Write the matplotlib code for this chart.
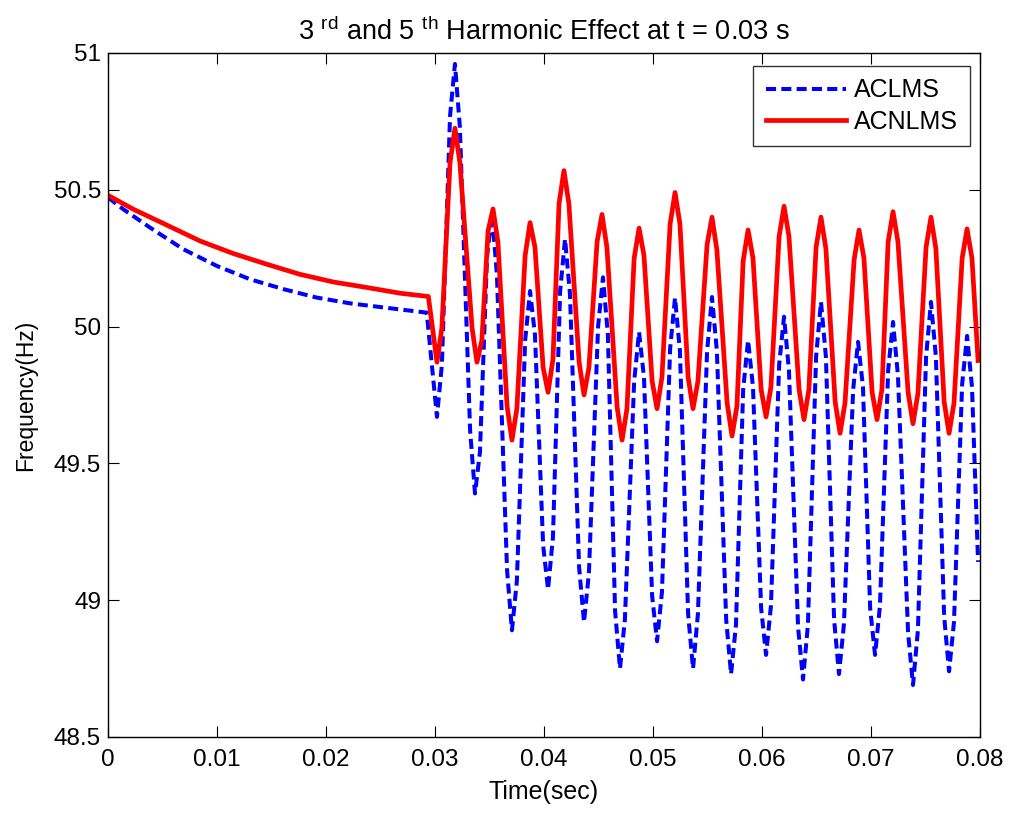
import matplotlib
matplotlib.use('Agg')
import matplotlib.pyplot as plt

plt.rcParams['font.family'] = ['Liberation Sans', 'DejaVu Sans']
plt.rcParams['mathtext.fontset'] = 'custom'
plt.rcParams['mathtext.rm'] = 'Liberation Sans'
plt.rcParams['mathtext.default'] = 'regular'

# ACLMS (blue dashed)
t_aclms = [0, 0.0014, 0.00385, 0.0069, 0.00997, 0.01303, 0.01609, 0.01915, 0.0222, 0.02526, 0.02924,
           0.03018, 0.03063, 0.03138, 0.03183, 0.03228, 0.03322, 0.03367, 0.03412,
           0.03478, 0.03523, 0.03568, 0.03661, 0.03706, 0.03751, 0.03827, 0.03872, 0.03917,
           0.03992, 0.04037, 0.04082, 0.04148, 0.04193, 0.04238, 0.04322, 0.04367, 0.04412,
           0.04496, 0.04541, 0.04586, 0.04652, 0.04697, 0.04742, 0.04827, 0.04872, 0.04917,
           0.04992, 0.05037, 0.05082, 0.05157, 0.05202, 0.05247, 0.05322, 0.05367, 0.05412,
           0.05496, 0.05541, 0.05586, 0.05671, 0.05716, 0.05761, 0.05827, 0.05872, 0.05917,
           0.05992, 0.06037, 0.06082, 0.06157, 0.06202, 0.06247, 0.06331, 0.06376, 0.06421,
           0.06496, 0.06541, 0.06586, 0.06661, 0.06706, 0.06751, 0.06836, 0.06881, 0.06926,
           0.06992, 0.07037, 0.07082, 0.07157, 0.07202, 0.07247, 0.0734, 0.07385, 0.0743,
           0.07505, 0.0755, 0.07595, 0.07671, 0.07716, 0.07761, 0.07836, 0.07881, 0.07926,
           0.07982]
f_aclms = [50.472, 50.429, 50.362, 50.283, 50.222, 50.173, 50.137, 50.106, 50.085, 50.07, 50.051,
           49.67, 49.86, 50.77, 50.96, 50.73, 49.62, 49.39, 49.54,
           50.26, 50.41, 50.19, 49.11, 48.89, 49.07, 49.95, 50.13, 49.97,
           49.20, 49.04, 49.23, 50.13, 50.32, 50.12, 49.12, 48.92, 49.10,
           50.00, 50.18, 49.97, 48.96, 48.75, 48.93, 49.80, 49.98, 49.815,
           49.015, 48.85, 49.03, 49.92, 50.105, 49.91, 48.95, 48.75, 48.95,
           49.91, 50.108, 49.91, 48.93, 48.73, 48.91, 49.77, 49.95, 49.78,
           48.97, 48.80, 48.98, 49.86, 50.036, 49.84, 48.90, 48.71, 48.91,
           49.89, 50.09, 49.89, 48.93, 48.73, 48.91, 49.77, 49.944, 49.78,
           48.97, 48.80, 48.98, 49.84, 50.017, 49.82, 48.88, 48.69, 48.89,
           49.89, 50.09, 49.89, 48.94, 48.74, 48.92, 49.79, 49.966, 49.78,
           49.14]

# ACNLMS (red solid)
t_acnlms = [0, 0.00232, 0.00492, 0.00844, 0.0115, 0.01456, 0.01761, 0.02067, 0.02373, 0.02679, 0.02939,
            0.03018, 0.03063, 0.03138, 0.03183, 0.03228, 0.0334, 0.03385, 0.0343,
            0.03487, 0.03532, 0.03577, 0.03661, 0.03706, 0.03751, 0.03827, 0.03872, 0.03917,
            0.03992, 0.04037, 0.04082, 0.04138, 0.04183, 0.04228, 0.04322, 0.04367, 0.04412,
            0.04487, 0.04532, 0.04577, 0.04671, 0.04716, 0.04761, 0.04827, 0.04872, 0.04917,
            0.04992, 0.05037, 0.05082, 0.05157, 0.05202, 0.05247, 0.05322, 0.05367, 0.05412,
            0.05496, 0.05541, 0.05586, 0.0568, 0.05725, 0.0577, 0.05827, 0.05872, 0.05917,
            0.05992, 0.06037, 0.06082, 0.06157, 0.06202, 0.06247, 0.0634, 0.06385, 0.0643,
            0.06496, 0.06541, 0.06586, 0.06671, 0.06716, 0.06761, 0.06845, 0.0689, 0.06935,
            0.0701, 0.07055, 0.071, 0.07157, 0.07202, 0.07247, 0.0734, 0.07385, 0.0743,
            0.07505, 0.0755, 0.07595, 0.07671, 0.07716, 0.07761, 0.07836, 0.07881, 0.07926,
            0.07982]
f_acnlms = [50.48, 50.429, 50.38, 50.313, 50.267, 50.228, 50.191, 50.163, 50.143, 50.122, 50.11,
            49.87, 49.995, 50.60, 50.725, 50.60, 49.995, 49.87, 49.95,
            50.35, 50.43, 50.31, 49.71, 49.585, 49.70, 50.26, 50.38, 50.29,
            49.85, 49.76, 49.88, 50.45, 50.57, 50.45, 49.87, 49.75, 49.85,
            50.31, 50.41, 50.29, 49.705, 49.585, 49.70, 50.25, 50.36, 50.26,
            49.80, 49.70, 49.815, 50.375, 50.49, 50.375, 49.815, 49.70, 49.80,
            50.30, 50.40, 50.28, 49.72, 49.60, 49.71, 50.24, 50.353, 50.25,
            49.77, 49.67, 49.78, 50.33, 50.44, 50.33, 49.77, 49.66, 49.77,
            50.29, 50.40, 50.285, 49.725, 49.61, 49.72, 50.245, 50.353, 50.25,
            49.76, 49.66, 49.77, 50.31, 50.42, 50.31, 49.76, 49.645, 49.755,
            50.29, 50.40, 50.285, 49.725, 49.61, 49.72, 50.25, 50.357, 50.25,
            49.876]

xticks = [0, 0.01, 0.02, 0.03, 0.04, 0.05, 0.06, 0.07, 0.08]
xlabels = ['0', '0.01', '0.02', '0.03', '0.04', '0.05', '0.06', '0.07', '0.08']
yticks = [48.5, 49, 49.5, 50, 50.5, 51]
ylabels = ['48.5', '49', '49.5', '50', '50.5', '51']

fig = plt.figure(figsize=(10.14, 8.14), dpi=100)
ax = fig.add_axes([0.1065, 0.0946, 0.86, 0.8403])

ax.plot(t_aclms, f_aclms, color='#0000ff', lw=2.9, linestyle=(0, (2.5, 1.3)),
        label='ACLMS')
ax.plot(t_acnlms, f_acnlms, color='#ff0000', lw=3.4, label='ACNLMS')

ax.set_xlim(0, 0.08)
ax.set_ylim(48.5, 51)
ax.set_xticks(xticks)
ax.set_xticklabels(xlabels)
ax.set_yticks(yticks)
ax.set_yticklabels(ylabels)
ax.tick_params(direction='in', top=True, right=True, labelsize=17.5, length=8,
               width=0.8)
ax.tick_params(axis='x', pad=9)
ax.tick_params(axis='y', pad=5)
for s in ax.spines.values():
    s.set_linewidth(1.0)

ax.set_xlabel('Time(sec)', fontsize=18, labelpad=6)
ax.set_ylabel('Frequency(Hz)', fontsize=16.5, labelpad=12)
ax.set_title(r'3 $^{rd}$ and 5 $^{th}$ Harmonic Effect at t = 0.03 s', fontsize=19.5, pad=9)

leg = ax.legend(loc='upper right', fontsize=18, fancybox=False, edgecolor='black',
                handlelength=3.2, handletextpad=0.32, borderpad=0.5, labelspacing=0.3,
                borderaxespad=0, bbox_to_anchor=(0.9885, 0.981))
leg.get_frame().set_linewidth(1.0)

fig.savefig('out.png', dpi=100)
